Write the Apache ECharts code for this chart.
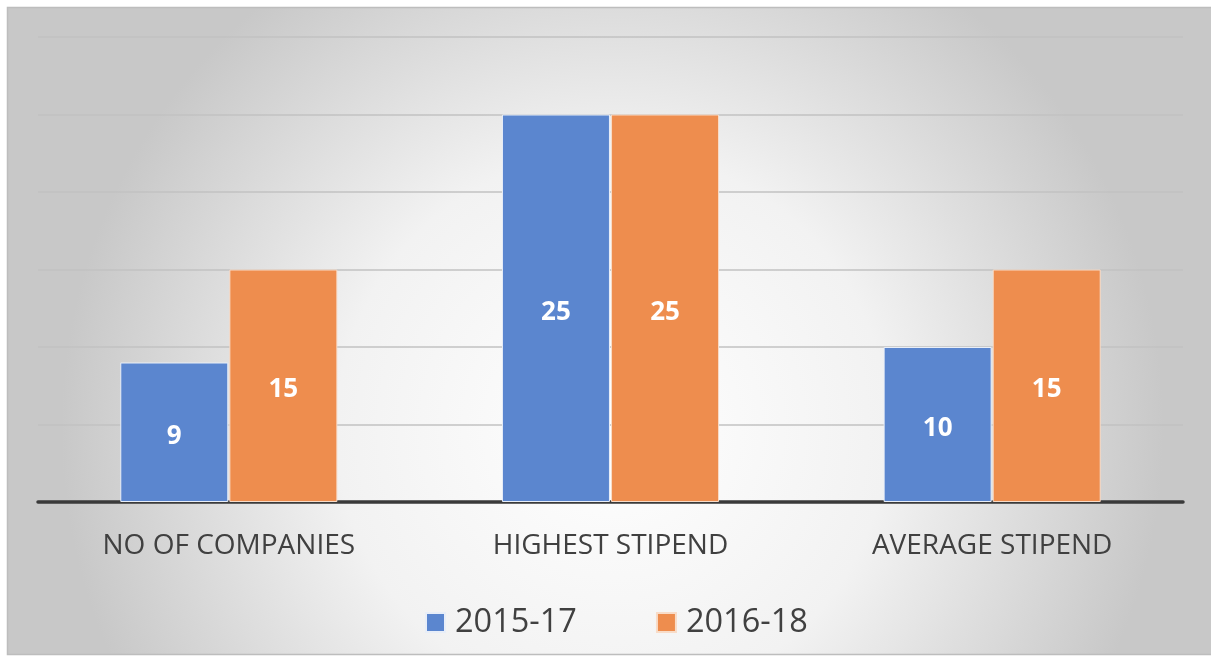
<!DOCTYPE html>
<html>
<head>
<meta charset="utf-8">
<script src="https://cdn.jsdelivr.net/npm/echarts@6/dist/echarts.min.js"></script>
<style>
  html, body { margin: 0; padding: 0; background: #fff; }
  #chart { width: 1211px; height: 658px; }
</style>
</head>
<body>
<div id="chart"></div>
<script>
var categories = ['NO OF COMPANIES', 'HIGHEST STIPEND', 'AVERAGE STIPEND'];
var seriesNames = ['2015-17', '2016-18'];
var values1517 = [9, 25, 10];
var values1618 = [15, 25, 15];

var chart = echarts.init(document.getElementById('chart'));

var labelStyle = {
  show: true,
  position: 'inside',
  offset: [0, 4],
  color: '#fff',
  fontFamily: 'Open Sans',
  fontWeight: 'bold',
  fontSize: 26
};

chart.setOption({
  animation: false,
  graphic: [{
    type: 'rect',
    z: -10,
    silent: true,
    shape: { x: 7.5, y: 7.5, width: 1210, height: 647 },
    style: {
      fill: {
        type: 'radial', x: 0.5, y: 0.65, r: 0.85,
        colorStops: [
          { offset: 0, color: '#ffffff' },
          { offset: 0.5, color: '#f2f2f2' },
          { offset: 1, color: '#c8c8c8' }
        ]
      },
      stroke: '#bdbdbd',
      lineWidth: 1.5
    }
  }],
  grid: { left: 38, right: 28, top: 37, bottom: 156 },
  legend: {
    data: seriesNames,
    left: 420,
    top: 601,
    itemWidth: 19,
    itemHeight: 19,
    itemGap: 79,
    icon: 'rect',
    textStyle: { fontFamily: 'Open Sans', fontSize: 32.5, color: '#404040', padding: [0, 0, 0, 5] }
  },
  xAxis: {
    type: 'category',
    data: categories,
    axisTick: { show: false },
    axisLine: { lineStyle: { color: '#3a3a3a', width: 3.5 } },
    axisLabel: { fontFamily: 'Open Sans', fontSize: 28, color: '#404040', margin: 30 }
  },
  yAxis: {
    type: 'value',
    min: 0,
    max: 30,
    interval: 5,
    axisLabel: { show: false },
    axisLine: { show: false },
    axisTick: { show: false },
    splitLine: { lineStyle: { color: '#c2c2c2', width: 1.5 } }
  },
  series: [{
    name: seriesNames[0],
    type: 'bar',
    data: values1517,
    barWidth: 108,
    barGap: '1%',
    itemStyle: { color: '#5b86cf', borderColor: '#e8eef8', borderWidth: 1 },
    label: labelStyle
  }, {
    name: seriesNames[1],
    type: 'bar',
    data: values1618,
    barWidth: 108,
    barGap: '1%',
    itemStyle: { color: '#ee8d4e', borderColor: '#f8dcc8', borderWidth: 1 },
    label: labelStyle
  }]
});
</script>
</body>
</html>
